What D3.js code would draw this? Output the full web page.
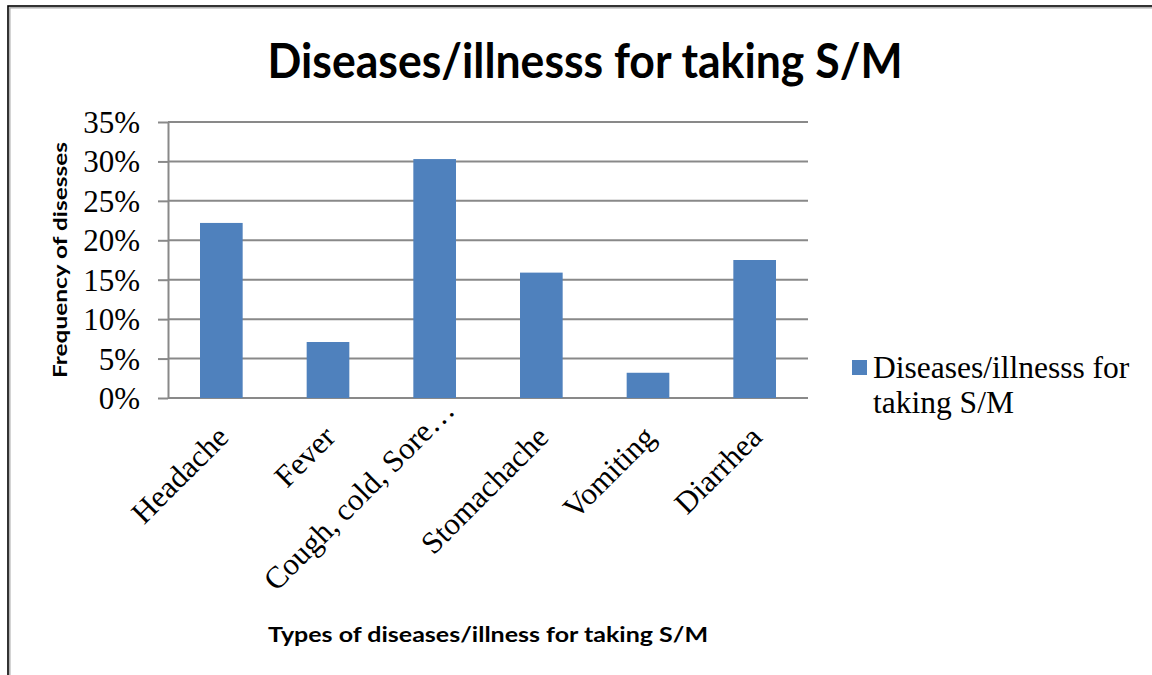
<!DOCTYPE html>
<html>
<head>
<meta charset="utf-8">
<script src="https://cdn.jsdelivr.net/npm/d3@7"></script>
<style>
  body { margin: 0; background: #fff; }
  svg { display: block; }
</style>
</head>
<body>
<svg id="chart"></svg>
<script>
const categories = ["Headache", "Fever", "Cough, cold, Sore\u2026", "Stomachache", "Vomiting", "Diarrhea"];
const values = [0.222, 0.071, 0.303, 0.159, 0.032, 0.175];
const yTicks = [0, 0.05, 0.10, 0.15, 0.20, 0.25, 0.30, 0.35];
const seriesName = ["Diseases/illnesss for", "taking S/M"];

const W = 1152, H = 675;
const serif = "'Liberation Serif', 'Times New Roman', serif";
const sans = "Lato, 'Open Sans', sans-serif";

const svg = d3.select("#chart").attr("width", W).attr("height", H);

// frame
svg.append("rect").attr("x", 8).attr("y", 6).attr("width", W).attr("height", H)
  .attr("fill", "none").attr("stroke", "#000").attr("stroke-width", 1.6);
svg.append("rect").attr("x", 9.8).attr("y", 7.8).attr("width", W).attr("height", H)
  .attr("fill", "none").attr("stroke", "#aaa").attr("stroke-width", 1.4);

const x = d3.scaleBand().domain(categories).range([168, 808])
  .paddingInner(0.6).paddingOuter(0.3);
const y = d3.scaleLinear().domain([0, 0.35]).range([398, 122]);

// grid
svg.append("g").selectAll("line").data(yTicks).join("line")
  .attr("x1", 168).attr("x2", 808)
  .attr("y1", d => y(d)).attr("y2", d => y(d))
  .attr("stroke", "#898989").attr("stroke-width", 2);

const yAxis = d3.axisLeft(y).tickValues(yTicks).tickFormat(d3.format(".0%"))
  .tickSize(10).tickSizeOuter(0).tickPadding(18);
const ga = svg.append("g").attr("transform", "translate(168,0)").call(yAxis);
ga.selectAll("path, line").attr("stroke", "#898989").attr("stroke-width", 2);
ga.selectAll("text").attr("font-family", serif)
  .attr("font-size", 31).attr("fill", "#000").attr("dy", "0.34em");

// bars
svg.append("g").selectAll("rect").data(values).join("rect")
  .attr("x", (d, i) => x(categories[i]))
  .attr("width", x.bandwidth())
  .attr("y", d => y(d))
  .attr("height", d => y(0) - y(d))
  .attr("fill", "#4f81bd");

// category labels
svg.append("g").selectAll("text").data(categories).join("text")
  .attr("transform", d => `translate(${x(d) + x.bandwidth() / 2 + 9},439) rotate(-45)`)
  .attr("dx", d => d.endsWith("\u2026") ? 28 : 0)
  .attr("dy", d => d.endsWith("\u2026") ? -10 : 0)
  .attr("text-anchor", "end")
  .attr("font-family", serif)
  .attr("font-size", 31).attr("fill", "#000")
  .text(d => d);

// titles
svg.append("text").attr("x", 585).attr("y", 78).attr("text-anchor", "middle")
  .attr("font-family", sans).attr("font-weight", "bold")
  .attr("font-size", 47).attr("textLength", 635).attr("lengthAdjust", "spacingAndGlyphs")
  .text("Diseases/illnesss for taking S/M");

svg.append("text").attr("transform", "translate(67,260) rotate(-90)")
  .attr("text-anchor", "middle")
  .attr("font-family", sans).attr("font-weight", "bold")
  .attr("font-size", 19).attr("textLength", 236).attr("lengthAdjust", "spacingAndGlyphs")
  .text("Frequency of disesses");

svg.append("text").attr("x", 488).attr("y", 642).attr("text-anchor", "middle")
  .attr("font-family", sans).attr("font-weight", "bold")
  .attr("font-size", 20).attr("textLength", 440).attr("lengthAdjust", "spacingAndGlyphs")
  .text("Types of diseases/illness for taking S/M");

// legend
const lg = svg.append("g");
lg.append("rect").attr("x", 852).attr("y", 360).attr("width", 15).attr("height", 15)
  .attr("fill", "#4f81bd");
lg.selectAll("text").data(seriesName).join("text")
  .attr("x", 873).attr("y", (d, i) => 378 + i * 35)
  .attr("font-family", serif)
  .attr("font-size", 31.5).attr("fill", "#000")
  .text(d => d);
</script>
</body>
</html>
